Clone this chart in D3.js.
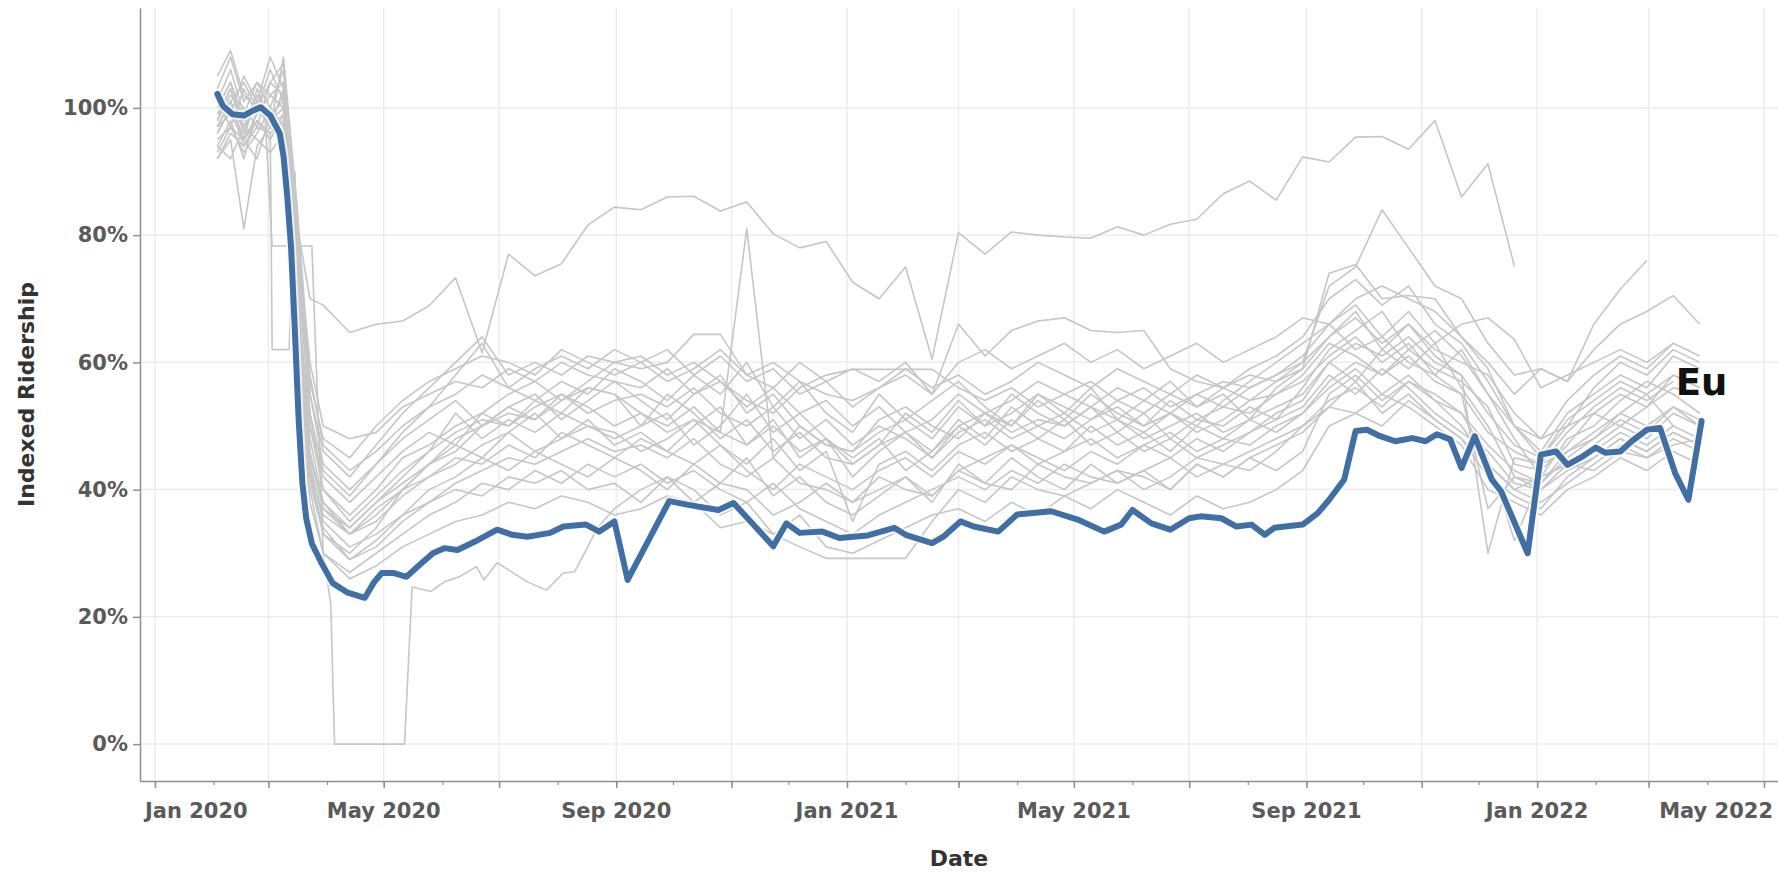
<!DOCTYPE html>
<html>
<head>
<meta charset="utf-8">
<script src="https://cdn.jsdelivr.net/npm/d3@7"></script>
<style>
	body{margin:0;background:#fff;}
	svg{display:block;font-family:"DejaVu Sans",sans-serif;}
</style>
</head>
<body>
<svg width="1778" height="872"></svg>
<script>
//days are counted from 1 Jan 2020
const startDay = Date.UTC(2020, 0, 1);

const yTickValues = [0, 20, 40, 60, 80, 100];
const xTickLabels = ["Jan 2020", "May 2020", "Sep 2020", "Jan 2021", "May 2021", "Sep 2021", "Jan 2022", "May 2022"];
const highlightName = "Eu";

//highlighted series: [day, indexed ridership %]
const euSeries = [[33,102.2],[36,100.3],[41,99.0],[47,98.8],[52,99.6],[56,100.1],[61,98.8],[66,96.0],[68,92.4],[70,86.0],[72,78.0],[74,65.0],[76,51.0],[78,41.0],[80,35.5],[83,31.5],[88,28.5],[94,25.3],[102,23.8],[111,23.0],[116,25.5],[120,26.9],[126,26.9],[133,26.3],[139,27.9],[147,30.0],[153,30.8],[160,30.5],[169,31.8],[181,33.7],[189,32.9],[197,32.6],[209,33.2],[216,34.2],[228,34.5],[235,33.4],[243,35.0],[250,25.8],[272,38.2],[282,37.6],[298,36.8],[306,37.9],[327,31.1],[334,34.7],[341,33.2],[353,33.4],[362,32.4],[377,32.8],[391,34.0],[397,32.9],[411,31.6],[417,32.6],[426,35.0],[433,34.2],[446,33.4],[456,36.1],[474,36.6],[488,35.3],[502,33.4],[511,34.5],[517,36.8],[527,34.7],[537,33.7],[547,35.5],[553,35.8],[564,35.5],[572,34.2],[580,34.5],[587,32.9],[592,34.0],[607,34.5],[615,36.3],[621,38.4],[629,41.6],[635,49.2],[641,49.4],[648,48.4],[656,47.6],[665,48.1],[672,47.6],[678,48.7],[685,47.9],[691,43.4],[698,48.4],[707,41.6],[712,39.7],[726,30.0],[733,45.5],[741,46.0],[747,43.9],[755,45.2],[762,46.6],[767,45.8],[775,46.0],[781,47.6],[789,49.4],[796,49.7],[804,42.6],[811,38.4],[818,50.8]];

//other series, read at these days
const grayDays = [33,40,47,54,61,68,75,82,89,103,117,131,145,159,173,187,201,215,229,243,257,271,285,299,313,327,341,355,369,383,397,411,425,439,453,467,481,495,509,523,537,551,565,579,593,607,621,635,649,663,677,691,705,719,733,747,761,775,789,803,817];

const graySeries = [
	[100,104,98,101,99,96,82,70,69, 64.7,66,66.5,68.9,73.3,61.5,77,73.6,75.5,81.6,84.4, 84,86,86.1,83.8,85.2,80.2,78,79, 72.6,70,75,60.5,80.4,77,80.5,80,79.7,79.5,81.3,80,81.7,82.5, 86.5,88.5,85.5,92.3,91.5,95.4,95.5,93.5,98,86,91.2,75.1, null,null,null,null,null,null,null],
	[101,106,99,104,102,104,78,55,46, 42,47,52,56,60,64,58,60,58,61,60, 59,60,64.4,64.4,58,56,60,57, 59,57,60,55,66,61,65,66.5,67,65,64.7,65,59,57,56,58,57,60, 72,75,84,78,72,70,63,58, 59,57,62,66,68,70.5,66],
	[96,100,97,102,99,101,70,48,38, 33,36,40,44,48,50,53,51,55,53,50, 52,49,51,49,81,45,50,47, 46,49,51,48,53,50,52,55,53,51,54,52,55,53,56,54,57,59, 74,75.4,70,70.5,70,64,60,55, 59,57,66,71.5,76,null,null],
	[94,98,92,100,97,99,85,50,40, 36,40,45,47,50,52,55,57,54,57,60, 61,58,60,57,54,52,56,58, 58.9,58.9,58.9,58.9,56,54,56,53,55,57,54,56,53,55,57,56,58,60, 64,67,63,66,62,60,58,52, 48,50,56,60,58,62,60],
	[99,103,96,101,98,100,62,42,34, 29,31,35,38,40,39,42,41,43,40,41, 38,42,40,36,38,33,31,29.2, 29.2,29.2,29.2,35,40,38,42,40,39,41,43,42,40,44,42,45,43,46, 55,58,54,57,55,52,45,32, 42,44,47,50,48,52,50],
	[98,102,100,97,104,102,75,45,37, 34,38,42,46,49,51,50,53,55,52,54, 55,53,56,52,50,53,48,51, 47,50,48,45,49,51,48,50,52,49,51,48,50,52,49,51,53,55, 60,63,61,64,60,58,30,45, 44,46,48,52,55,50,null],
	[95,97,93,96,100,97,66,44,35, 31,33,36,38,41,43,45,44,46,48,46, 47,45,48,44,42,45,41,40, 38,42,40,39,43,45,47,44,46,48,45,47,49,46,48,47,50,52, 57,60,58,61,57,55,37,42, 40,43,45,48,46,49,47],
	[103,108,101,104,100,106,72,50,42, 38,42,46,49,47,52,50,54,52,56,55, 50,55,52,48,51,46,49,45, 44,47,52,49,54,50,55,52,50,53,49,52,48,51,50,53,51,56, 62,65,68,62,65,61,55,48, 42,48,50,54,57,55,52],
	[100,104,98,101,108,103,80,60,50, 48,49,53,55,57,56,59,57,60,58,57, 56,59,55,57,53,56,52,54, 50,53,49,51,55,52,54,57,55,53,56,54,52,55,53,56,58,61, 66,70,72,70,68,64,59,50, 46,52,55,58,56,61,59],
	[97,99,95,98,96,98,60,40,30, 26,28,31,33,35,36,38,37,39,38,36, 37,39,38,34,35,33,36,31, 30,32,34,36,37,35,38,36,39,37,40,38,36,39,37,38,40,43, 50,52,55,53,50,47,40,38, 36,40,42,45,43,46,44],
	[92,95,81,94,97,95,65,43,36, 33,37,40,42,44,47,49,46,48,50,49, 46,48,51,47,44,48,43,46, 35,44,46,43,47,49,46,48,51,47,49,46,48,45,47,49,52,54, 60,57,62,59,63,56,50,42, 41,45,48,51,49,53,50],
	[99,101,104,100,97,108,85,58,47, 43,46,50,53,55,58,56,59,61,59,62, 60,57,59,62,58,60,57,55, 54,56,58,55,60,62,59,61,63,60,62,59,61,63,60,62,64,67, 66,69,64,68,63,66,67,63.6, 56,58,60,62,60,63,null],
	[101,97,103,99,102,100,76,52,40, 35,39,43,46,52,48,51,49,52,50,48, 50,52,47,50,55,49,52,48, 45,48,43,46,51,48,53,50,48,51,53,50,52,49,51,54,55,58, 63,61,58,62,59,57,53,44, 43,47,52,50,53,56,55],
	[94,92,97,95,93,96,58,38,30, 27,30,33,36,38,41,40,43,41,44,42, 44,41,43,40,38,41,37,35, 33,36,38,40,42,40,43,41,44,42,41,43,45,42,44,46,48,50, 54,56,53,57,54,50,44,40, 38,41,44,47,45,48,46],
	[105,109,102,100,104,107,82,55,44, 40,44,48,51,54,50,53,55,51,54,57, 54,51,55,58,52,55,50,47, 46,51,53,50,48,52,50,54,51,55,52,50,54,51,53,52,55,57, 61,64,60,63,58,55,49,46, 44,49,53,56,54,57,null],
	[96,100,94,98,95,99,68,46,37, 33,35,39,42,45,44,47,45,49,47,45, 48,46,44,47,43,40,44,42, 40,43,45,42,46,44,47,45,43,46,44,47,45,48,46,49,51,53, 58,55,59,56,52,49,46,41, 40,44,46,49,47,50,48],
	[98,103,97,100,106,101,78,52,43, 39,44,49,53,58,63,56,54,57,55,59, 57,54,58,55,60,53,57,52, 49,55,51,54,57,53,50,55,52,56,51,54,57,53,55,51,56,59, 64,68,62,66,61,58,52,47, 45,51,54,57,55,58,56],
	[93,97,95,92,99,96,64,45,38, 34,38,41,44,47,45,49,52,48,51,47, 49,46,50,53,47,51,45,48, 42,46,49,45,50,47,51,48,46,50,47,49,46,50,48,51,49,52, 56,59,55,58,54,52,47,43, 41,46,49,52,50,53,51],
	[97,101,95,103,98,102,66,43,33, 29,32,36,40,42,45,43,46,44,42,45, 43,40,44,41,45,39,42,38, 36,39,42,38,44,41,45,42,40,44,41,43,40,44,42,45,47,49, 53,57,52,55,51,48,42,39, 37,42,45,48,46,49,47],
	[102,99,105,101,97,103,79,57,48, 45,50,54,57,59,61,60,58,62,60,58, 60,62,58,61,57,59,55,57, 53,56,59,56,58,55,57,60,58,56,59,57,55,58,56,59,61,64, 70,73,69,72,66,63,57,50, 48,54,58,61,59,63,61]
];

//two series with flat steps, kept as [day, value]
const grayStepZero = [[33,97],[40,101],[47,95],[54,99],[58,100],[62,78.3],[83,78.3],[89,30],[93,22],[95,0],[132,0],[136,24.7],[146,24],[153,25.5],[161,26.3],[170,27.9],[174,25.8],[181,28.5],[197,25.5],[207,24.2],[216,26.9],[222,27.1],[228,30.5],[234,34],[243,37],[257,40],[271,42],[285,38],[299,41],[313,40],[327,36],[341,38],[355,41],[369,38],[383,40],[397,42],[411,39],[425,43],[439,41],[453,40],[467,44],[481,42],[495,41],[509,43],[523,40],[537,42],[551,45],[565,44],[579,43],[593,46],[607,50],[621,53],[635,52],[649,50],[663,54],[677,51],[691,48],[705,44],[719,40],[733,42],[747,44],[761,43],[775,46],[789,45],[803,47],[817,48]];
const grayStepLow = [[33,92],[40,96],[47,94],[54,97],[61,96],[62,62],[71,62],[74,90],[78,55],[83,40],[89,33],[103,30],[117,34],[131,40],[145,44],[159,46],[173,50],[187,52],[201,51],[215,54],[229,56],[243,55],[257,52],[271,50],[285,53],[299,49],[313,47],[327,50],[341,46],[355,48],[369,44],[383,47],[397,49],[411,46],[425,50],[439,52],[453,49],[467,51],[481,50],[495,53],[509,51],[523,49],[537,52],[551,50],[565,54],[579,57],[593,60],[607,63],[621,66],[635,62],[649,64],[663,60],[677,58],[691,62],[705,55],[719,50],[733,45],[747,50],[761,52],[775,55],[789,53],[803,58],[817,56]];

(()=>{
	let svg = d3.select("svg"),
		svgwidth = +svg.attr("width"),
		svgheight = +svg.attr("height");
	let plot = {left:140, right:1778, top:8, bottom:781};
	let axisColor = "#8f8f8f",
		gridColor = "#ececec",
		grayColor = "#c6c6c6",
		blue = "#3f6fa4";

	let toDate = d => new Date(startDay + d*864e5);

	let x = d3.scaleUtc()
		.domain([toDate(-7.9), toDate(858.4)])
		.range([plot.left, plot.right]);
	let y = d3.scaleLinear()
		.domain([-5.8, 115.7])
		.range([plot.bottom, plot.top]);

	svg.append("rect")
		.attr("width", svgwidth)
		.attr("height", svgheight)
		.attr("fill", "#fff");

	let majorTicks = d3.utcMonth.every(2).range(x.domain()[0], x.domain()[1]);

	//gridlines
	let grid = svg.append("g");
	grid.selectAll(".hgrid").data(yTickValues).enter()
		.append("line")
		  .attr("class", "hgrid")
		  .attr("x1", plot.left).attr("x2", plot.right)
		  .attr("y1", d=>y(d)).attr("y2", d=>y(d))
		  .attr("stroke", gridColor).attr("stroke-width", 1.5);
	grid.selectAll(".vgrid").data(majorTicks).enter()
		.append("line")
		  .attr("class", "vgrid")
		  .attr("x1", d=>x(d)).attr("x2", d=>x(d))
		  .attr("y1", plot.top).attr("y2", plot.bottom)
		  .attr("stroke", gridColor).attr("stroke-width", 1.5);

	//lines
	let line = d3.line()
		.defined(d => d[1] != null)
		.x(d => x(toDate(d[0])))
		.y(d => y(d[1]));

	let grayData = graySeries.map(s => grayDays.map((d,i) => [d, s[i]]));
	grayData.push(grayStepZero, grayStepLow);

	svg.append("g").selectAll(".gray").data(grayData).enter()
		.append("path")
		  .attr("class", "gray")
		  .attr("d", line)
		  .attr("fill", "none")
		  .attr("stroke", grayColor)
		  .attr("stroke-width", 1.6)
		  .attr("stroke-linejoin", "round");

	svg.append("path")
		.attr("d", line(euSeries))
		.attr("fill", "none")
		.attr("stroke", "#fff")
		.attr("stroke-opacity", 0.7)
		.attr("stroke-width", 10)
		.attr("stroke-linejoin", "round");
	svg.append("path")
		.attr("d", line(euSeries))
		.attr("fill", "none")
		.attr("stroke", blue)
		.attr("stroke-width", 6)
		.attr("stroke-linejoin", "round")
		.attr("stroke-linecap", "round");

	//axes
	let yAxis = svg.append("g")
		.attr("transform", "translate(" + plot.left + ",0)")
		.call(d3.axisLeft(y).tickValues(yTickValues).tickFormat(d => d + "%").tickSize(7).tickSizeOuter(0).tickPadding(5));
	yAxis.attr("font-family", null).attr("font-size", 21);
	yAxis.select(".domain").attr("stroke", axisColor).attr("stroke-width", 1.5);
	yAxis.selectAll(".tick line").attr("stroke", axisColor).attr("stroke-width", 1.5);
	yAxis.selectAll(".tick text").attr("fill", "#5a5a5a").attr("font-weight", "bold");

	let xMinor = svg.append("g")
		.attr("transform", "translate(0," + plot.bottom + ")")
		.call(d3.axisBottom(x).ticks(d3.utcMonth.every(1)).tickSize(4).tickFormat(""));
	xMinor.select(".domain").remove();
	xMinor.selectAll(".tick line").attr("stroke", axisColor).attr("stroke-width", 1.2);

	let xAxis = svg.append("g")
		.attr("transform", "translate(0," + plot.bottom + ")")
		.call(d3.axisBottom(x).ticks(d3.utcMonth.every(2)).tickSize(7).tickSizeOuter(0).tickFormat(""));
	xAxis.select(".domain").attr("stroke", axisColor).attr("stroke-width", 1.5);
	xAxis.selectAll(".tick line").attr("stroke", axisColor).attr("stroke-width", 1.5);

	//x labels, kept inside the chart at both ends
	let parseLabel = d3.utcParse("%b %Y");
	svg.append("g")
		.attr("font-size", 21)
		.attr("font-weight", "bold")
		.attr("fill", "#5a5a5a")
	  .selectAll("text").data(xTickLabels).enter()
		.append("text")
		  .attr("y", 818)
		  .text(d => d)
		  .each(function(d){
			let w = this.getComputedTextLength();
			let cx = x(parseLabel(d));
			let left = Math.max(plot.left + 5, Math.min(cx - w/2, plot.right - 5 - w));
			d3.select(this).attr("x", left);
		  });

	//titles
	svg.append("text")
		.attr("transform", "translate(34," + (plot.top + plot.bottom)/2 + ") rotate(-90)")
		.attr("text-anchor", "middle")
		.attr("font-size", 22)
		.attr("font-weight", "bold")
		.attr("fill", "#333")
		.text("Indexed Ridership");
	svg.append("text")
		.attr("x", (plot.left + plot.right)/2)
		.attr("y", 866)
		.attr("text-anchor", "middle")
		.attr("font-size", 22)
		.attr("font-weight", "bold")
		.attr("fill", "#333")
		.text("Date");

	//series label at the end of the highlighted line
	let last = euSeries[euSeries.length - 1];
	svg.append("text")
		.attr("x", x(toDate(last[0])))
		.attr("y", y(last[1]) - 26)
		.attr("text-anchor", "middle")
		.attr("font-size", 37)
		.attr("font-weight", "bold")
		.attr("fill", "#111")
		.text(highlightName);
})();
</script>
</body>
</html>
